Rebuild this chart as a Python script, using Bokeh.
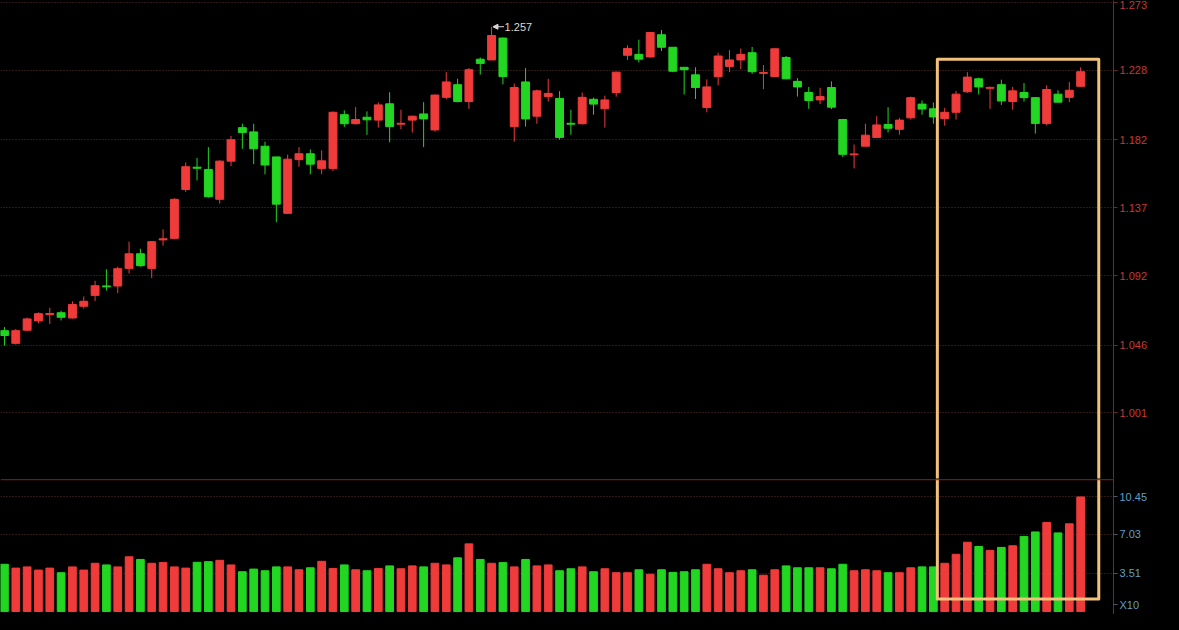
from bokeh.plotting import figure
from bokeh.models import (Range1d, FixedTicker, PrintfTickFormatter, Arrow, NormalHead,
                          Label, Span, GlobalInlineStyleSheet)
from bokeh.layouts import column
from bokeh.embed import file_html
from bokeh.resources import INLINE

# ---------------- data ----------------
opens = [1.0555, 1.0471, 1.0558, 1.0620, 1.0662, 1.0674, 1.0639, 1.0717, 1.0789, 1.0852,
         1.0851, 1.0968, 1.1065, 1.0968, 1.1157, 1.1167, 1.1491, 1.1639, 1.1624, 1.1426,
         1.1679, 1.1901, 1.1873, 1.1778, 1.1707, 1.1333, 1.1689, 1.1728, 1.1631, 1.1631,
         1.1987, 1.1927, 1.1970, 1.1951, 1.2059, 1.1924, 1.1951, 1.1992, 1.1886, 1.2102,
         1.2186, 1.2074, 1.2355, 1.2350, 1.2495, 1.1908, 1.2204, 1.1977, 1.2107, 1.2095,
         1.1930, 1.1927, 1.2089, 1.2026, 1.2134, 1.2381, 1.2387, 1.2370, 1.2517, 1.2434,
         1.2301, 1.2251, 1.2035, 1.2240, 1.2307, 1.2350, 1.2398, 1.2261, 1.2240, 1.2366,
         1.2208, 1.2134, 1.2085, 1.2167, 1.1955, 1.1721, 1.1778, 1.1836, 1.1922, 1.1890,
         1.1966, 1.2057, 1.2026, 1.1961, 1.2003, 1.2139, 1.2225, 1.2162, 1.2186, 1.2074,
         1.2134, 1.2100, 1.1929, 1.2123, 1.2102, 1.2175]
highs = [1.0579, 1.0566, 1.0642, 1.0676, 1.0707, 1.0687, 1.0750, 1.0782, 1.0886, 1.0962,
         1.0979, 1.1145, 1.1098, 1.1149, 1.1227, 1.1433, 1.1670, 1.1700, 1.1772, 1.1685,
         1.1847, 1.1927, 1.1927, 1.1808, 1.1707, 1.1722, 1.1772, 1.1757, 1.1750, 1.2009,
         1.2016, 1.2037, 1.2009, 1.2068, 1.2136, 1.2020, 1.1981, 1.2070, 1.2121, 1.2269,
         1.2225, 1.2296, 1.2366, 1.2570, 1.2499, 1.2193, 1.2296, 1.2154, 1.2225, 1.2143,
         1.2020, 1.2134, 1.2100, 1.2113, 1.2272, 1.2447, 1.2484, 1.2532, 1.2549, 1.2434,
         1.2301, 1.2301, 1.2221, 1.2398, 1.2415, 1.2426, 1.2436, 1.2316, 1.2426, 1.2376,
         1.2230, 1.2171, 1.2165, 1.2208, 1.1959, 1.1789, 1.1927, 1.1977, 1.2037, 1.1966,
         1.2107, 1.2081, 1.2068, 1.2031, 1.2145, 1.2269, 1.2232, 1.2173, 1.2219, 1.2171,
         1.2197, 1.2100, 1.2182, 1.2149, 1.2204, 1.2301]
lows = [1.0456, 1.0463, 1.0551, 1.0605, 1.0599, 1.0623, 1.0636, 1.0702, 1.0752, 1.0821,
        1.0804, 1.0934, 1.0979, 1.0903, 1.1119, 1.1162, 1.1475, 1.1551, 1.1437, 1.1398,
        1.1646, 1.1761, 1.1659, 1.1592, 1.1274, 1.1333, 1.1642, 1.1592, 1.1592, 1.1614,
        1.1906, 1.1922, 1.1854, 1.1901, 1.1804, 1.1890, 1.1869, 1.1772, 1.1875, 1.2089,
        1.2068, 1.2026, 1.2253, 1.2350, 1.2188, 1.1808, 1.1908, 1.1927, 1.2074, 1.1821,
        1.1854, 1.1922, 1.1987, 1.1901, 1.2107, 1.2350, 1.2333, 1.2366, 1.2409, 1.2269,
        1.2121, 1.2091, 1.2003, 1.2182, 1.2269, 1.2290, 1.2258, 1.2156, 1.2240, 1.2221,
        1.2107, 1.2026, 1.2057, 1.2024, 1.1707, 1.1631, 1.1778, 1.1836, 1.1869, 1.1854,
        1.1955, 1.1987, 1.1927, 1.1914, 1.1955, 1.2132, 1.2121, 1.2026, 1.2052, 1.2020,
        1.2074, 1.1862, 1.1916, 1.2068, 1.2070, 1.2171]
closes = [1.0523, 1.0555, 1.0633, 1.0668, 1.0669, 1.0644, 1.0728, 1.0750, 1.0853, 1.0846,
          1.0966, 1.1065, 1.0986, 1.1145, 1.1164, 1.1426, 1.1642, 1.1632, 1.1443, 1.1679,
          1.1821, 1.1869, 1.1761, 1.1653, 1.1394, 1.1692, 1.1728, 1.1659, 1.1681, 1.2003,
          1.1927, 1.1955, 1.1953, 1.2052, 1.1908, 1.1930, 1.1977, 1.1959, 1.2117, 1.2204,
          1.2074, 1.2285, 1.2327, 1.2512, 1.2240, 1.2167, 1.1959, 1.2145, 1.2128, 1.1836,
          1.1924, 1.2102, 1.2057, 1.2085, 1.2269, 1.2426, 1.2355, 1.2532, 1.2434, 1.2275,
          1.2285, 1.2167, 1.2171, 1.2376, 1.2350, 1.2387, 1.2272, 1.2267, 1.2424, 1.2225,
          1.2171, 1.2081, 1.2107, 1.2037, 1.1724, 1.1727, 1.1851, 1.1919, 1.1897, 1.1951,
          1.2100, 1.2024, 1.1972, 1.2003, 1.2123, 1.2236, 1.2171, 1.2168, 1.2078, 1.2145,
          1.2100, 1.1929, 1.2154, 1.2070, 1.2149, 1.2272]
volumes = [4.31, 3.96, 4.07, 3.78, 3.96, 3.54, 4.07, 3.78, 4.40, 4.25,
           4.07, 4.99, 4.75, 4.40, 4.46, 4.07, 3.96, 4.49, 4.55, 4.67,
           4.25, 3.63, 3.87, 3.72, 4.07, 4.07, 3.81, 3.99, 4.58, 3.93,
           4.25, 3.81, 3.72, 3.93, 4.16, 3.90, 4.16, 4.07, 4.40, 4.25,
           4.90, 6.17, 4.75, 4.40, 4.46, 4.07, 4.75, 4.16, 4.25, 3.72,
           3.90, 4.07, 3.63, 3.90, 3.54, 3.54, 3.81, 3.40, 3.81, 3.57,
           3.63, 3.81, 4.31, 3.90, 3.54, 3.72, 3.81, 3.31, 3.81, 4.16,
           3.99, 3.99, 3.99, 3.90, 4.31, 3.72, 3.81, 3.72, 3.54, 3.54,
           3.99, 4.07, 4.07, 4.40, 5.22, 6.32, 5.93, 5.58, 5.85, 6.00,
           6.85, 7.26, 8.12, 7.17, 8.00, 10.45]
price_ticks = [1.001, 1.046, 1.092, 1.137, 1.182, 1.228, 1.273]
volume_ticks = [3.51, 7.03, 10.45]
volume_unit_label = "X10"
highlight_first, highlight_last = 83, 95

# ---------------- styles ----------------
RED = "#f03b3b"
GREEN = "#22d622"
AXIS_RED = "#8e1d1d"
GRID = "#5a2e2e"
BOX = "#f2c27c"
FONT = "Liberation Sans"

idx = list(range(len(opens)))
colors = [RED if c >= o else GREEN for o, c in zip(opens, closes)]
body_top = [max(o, c) for o, c in zip(opens, closes)]
body_bot = [min(o, c) for o, c in zip(opens, closes)]

x_range = Range1d(-0.35, 97.9)
W = 1163


def style_axis(ax, label_color, tick_color):
    ax.axis_line_color = AXIS_RED
    ax.major_tick_line_color = tick_color
    ax.major_tick_out = 4
    ax.major_tick_in = 0
    ax.minor_tick_line_color = None
    ax.major_label_standoff = 2
    ax.major_label_text_color = label_color
    ax.major_label_text_font = FONT
    ax.major_label_text_font_size = "11px"


# ---------------- price panel ----------------
p = figure(width=W, height=478, x_range=x_range, y_range=Range1d(0.9575, 1.2744),
           output_backend="svg", toolbar_location=None, y_axis_location="right",
           background_fill_color="black", border_fill_color="black",
           min_border_left=0, min_border_right=50, min_border_top=0, min_border_bottom=0,
           outline_line_color=None)
p.xaxis.visible = False
p.xgrid.visible = False
p.ygrid.ticker = FixedTicker(ticks=price_ticks)
p.ygrid.grid_line_color = GRID
p.ygrid.grid_line_dash = "1 2"

ya = p.yaxis[0]
ya.ticker = FixedTicker(ticks=price_ticks)
ya.formatter = PrintfTickFormatter(format="%.3f")
style_axis(ya, "#c23a36", "#6a2a2a")

p.segment(x0=idx, y0=lows, x1=idx, y1=highs, line_color=colors, line_width=1)
p.vbar(x=idx, width=0.7, top=body_top, bottom=body_bot, fill_color=colors, line_color=colors)

# peak annotation
peak_i = max(idx, key=lambda i: highs[i])
peak_v = highs[peak_i]
p.add_layout(Arrow(x_start=peak_i + 1.1, y_start=peak_v, x_end=peak_i + 0.12, y_end=peak_v,
                   line_color="#d8d8d8", line_width=1,
                   end=NormalHead(size=5, fill_color="#d8d8d8", line_color="#d8d8d8")))
p.add_layout(Label(x=peak_i + 1.15, y=peak_v, text=f"{peak_v:.3f}", text_color="#d8d8d8",
                   text_font=FONT, text_font_size="11px", text_baseline="middle"))

# highlight box (upper part)
bx0 = highlight_first - 0.65
bx1 = highlight_last + 1.6
box_top = max(highs[highlight_first:highlight_last + 1]) + 0.0054
p.line(x=[bx0, bx0, bx1, bx1], y=[0.5, box_top, box_top, 0.5], line_color=BOX,
       line_width=3, line_join="round")

# ---------------- volume panel ----------------
v = figure(width=W, height=136, x_range=x_range, y_range=Range1d(-0.27, 12.13),
           output_backend="svg", toolbar_location=None, y_axis_location="right",
           background_fill_color="black", border_fill_color="black",
           min_border_left=0, min_border_right=50, min_border_top=0, min_border_bottom=0,
           outline_line_color=None)
v.xaxis.visible = False
v.xgrid.visible = False
v.ygrid.ticker = FixedTicker(ticks=volume_ticks)
v.ygrid.grid_line_color = GRID
v.ygrid.grid_line_dash = "1 2"

unit_pos = 0.62
va = v.yaxis[0]
va.ticker = FixedTicker(ticks=[unit_pos] + volume_ticks)
va.formatter = PrintfTickFormatter(format="%.2f")
va.major_label_overrides = {unit_pos: volume_unit_label}
style_axis(va, "#5f9fc4", "#4a5a6a")

v.vbar(x=idx, width=0.68, top=volumes, bottom=0, fill_color=colors, line_color=colors)

box_bottom = 1.15
v.line(x=[bx0, bx0, bx1, bx1], y=[30, box_bottom, box_bottom, 30], line_color=BOX,
       line_width=3, line_join="round")

# divider between the two panels
v.add_layout(Span(location=12.02, dimension="width", line_color=AXIS_RED, line_width=1))

layout = column(p, v, spacing=0,
                stylesheets=[GlobalInlineStyleSheet(css="html, body { background-color: #000; }")])

open("out.html", "w").write(file_html(layout, INLINE))
